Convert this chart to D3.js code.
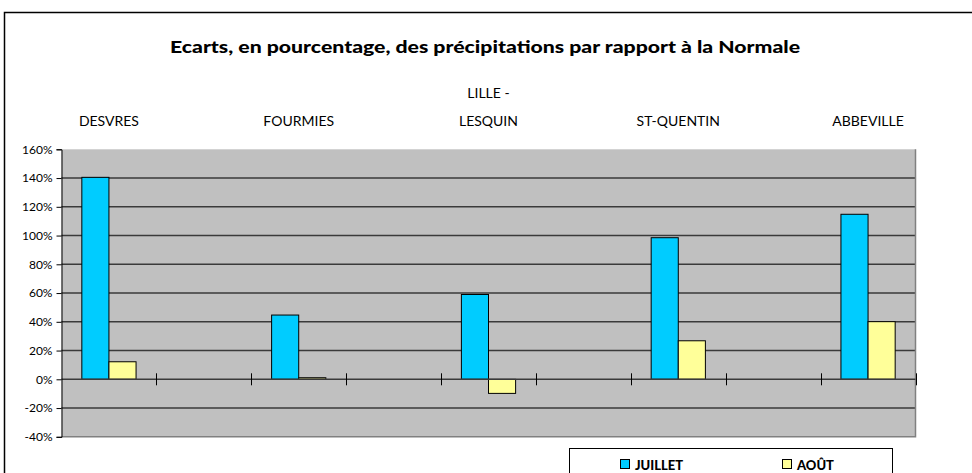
<!DOCTYPE html>
<html>
<head>
<meta charset="utf-8">
<script src="https://cdn.jsdelivr.net/npm/d3@7"></script>
<style>
  body { margin: 0; background: #fff; }
  svg { display: block; }
  text { font-family: "Lato", "DejaVu Sans", sans-serif; }
</style>
</head>
<body>
<div id="chart"></div>
<script>
// stations (empty slots between them, like the original sheet)
const categories = ["DESVRES", "", "FOURMIES", "", "LILLE -\nLESQUIN", "", "ST-QUENTIN", "", "ABBEVILLE"];
const juillet = [140.5, null, 44.7, null, 59, null, 98.5, null, 114.8];
const aout = [12.2, null, 1.1, null, -9.8, null, 26.8, null, 40.1];
const seriesNames = ["JUILLET", "AOÛT"];
const yTicks = [-40, -20, 0, 20, 40, 60, 80, 100, 120, 140, 160];

const colors = ["#00CCFF", "#FFFF99"];
const width = 972, height = 473;

const svg = d3.select("#chart").append("svg")
  .attr("width", width).attr("height", height);

// cadre extérieur
svg.append("rect")
  .attr("x", 4.5).attr("y", 12.5)
  .attr("width", 980).attr("height", 480)
  .attr("fill", "#fff").attr("stroke", "#000").attr("stroke-width", 1.5);

// titre
svg.append("text")
  .attr("x", 485).attr("y", 53)
  .attr("text-anchor", "middle")
  .attr("font-size", 17).attr("font-weight", 900)
  .attr("textLength", 630).attr("lengthAdjust", "spacingAndGlyphs")
  .text("Ecarts, en pourcentage, des précipitations par rapport à la Normale");

const plot = { left: 61.5, right: 915.5, top: 149.3, bottom: 436.8 };

const x = d3.scaleBand().domain(d3.range(categories.length))
  .range([plot.left, plot.right]).paddingInner(0).paddingOuter(0);
const y = d3.scaleLinear().domain([-40, 160]).range([plot.bottom, plot.top]);

const barW = x.bandwidth() / 3.5;

// fond
svg.append("rect")
  .attr("x", plot.left).attr("y", plot.top)
  .attr("width", plot.right - plot.left).attr("height", plot.bottom - plot.top)
  .attr("fill", "#C0C0C0");

// quadrillage
svg.append("g").selectAll("line")
  .data(yTicks.filter(d => d !== -40 && d !== 160 && d !== 0))
  .enter().append("line")
  .attr("x1", plot.left).attr("x2", plot.right)
  .attr("y1", d => y(d)).attr("y2", d => y(d))
  .attr("stroke", "#3a3a3a").attr("stroke-width", 1.5);

// bord droit + bas
svg.append("path")
  .attr("d", `M${plot.right},${plot.top}V${plot.bottom}H${plot.left}`)
  .attr("fill", "none").attr("stroke", "#808080").attr("stroke-width", 1.5);

// barres
const data = [juillet, aout];
data.forEach((vals, si) => {
  svg.append("g").selectAll("rect")
    .data(vals.map((v, i) => ({ i, v })).filter(d => d.v !== null))
    .enter().append("rect")
    .attr("x", d => x(d.i) + x.bandwidth() / 2 - barW + si * barW)
    .attr("y", d => y(Math.max(0, d.v)))
    .attr("width", barW)
    .attr("height", d => Math.abs(y(d.v) - y(0)))
    .attr("fill", colors[si])
    .attr("stroke", "#000").attr("stroke-width", 1);
});

// ligne du zéro + graduations
svg.append("line")
  .attr("x1", plot.left).attr("x2", plot.right)
  .attr("y1", y(0)).attr("y2", y(0))
  .attr("stroke", "#3a3a3a").attr("stroke-width", 1.5);
svg.append("g").selectAll("line")
  .data(d3.range(1, categories.length + 1))
  .enter().append("line")
  .attr("x1", d => Math.round(plot.left + d * x.bandwidth()) + 0.5)
  .attr("x2", d => Math.round(plot.left + d * x.bandwidth()) + 0.5)
  .attr("y1", y(0) - 6).attr("y2", y(0) + 6)
  .attr("stroke", "#000").attr("stroke-width", 1);

// axe Y
const yAxis = svg.append("g")
  .attr("transform", `translate(${plot.left},0)`)
  .call(d3.axisLeft(y).tickValues(yTicks).tickSize(5).tickPadding(4)
    .tickFormat(d => d + "%"));
yAxis.select(".domain").attr("stroke", "#000");
yAxis.selectAll("text").attr("font-size", 12)
  .attr("font-family", "Lato, sans-serif").attr("fill", "#000");

// noms des stations
categories.forEach((c, i) => {
  if (!c) return;
  const lines = c.split("\n");
  const t = svg.append("text")
    .attr("text-anchor", "middle")
    .attr("font-size", 14)
    .attr("x", x(i) + x.bandwidth() / 2);
  lines.forEach((l, k) => {
    t.append("tspan")
      .attr("x", x(i) + x.bandwidth() / 2)
      .attr("y", 126 - (lines.length - 1 - k) * 28)
      .text(l);
  });
});

// légende
const leg = svg.append("g");
leg.append("rect")
  .attr("x", 569.5).attr("y", 448.5)
  .attr("width", 323).attr("height", 40)
  .attr("fill", "#fff").attr("stroke", "#000").attr("stroke-width", 1);
const legX = [620, 782];
seriesNames.forEach((s, i) => {
  leg.append("rect")
    .attr("x", legX[i] + 0.5).attr("y", 459.5)
    .attr("width", 9).attr("height", 9)
    .attr("fill", colors[i]).attr("stroke", "#000").attr("stroke-width", 1);
  leg.append("text")
    .attr("x", legX[i] + 15).attr("y", 470)
    .attr("font-size", 13).attr("font-weight", 900)
    .text(s);
});
</script>
</body>
</html>
